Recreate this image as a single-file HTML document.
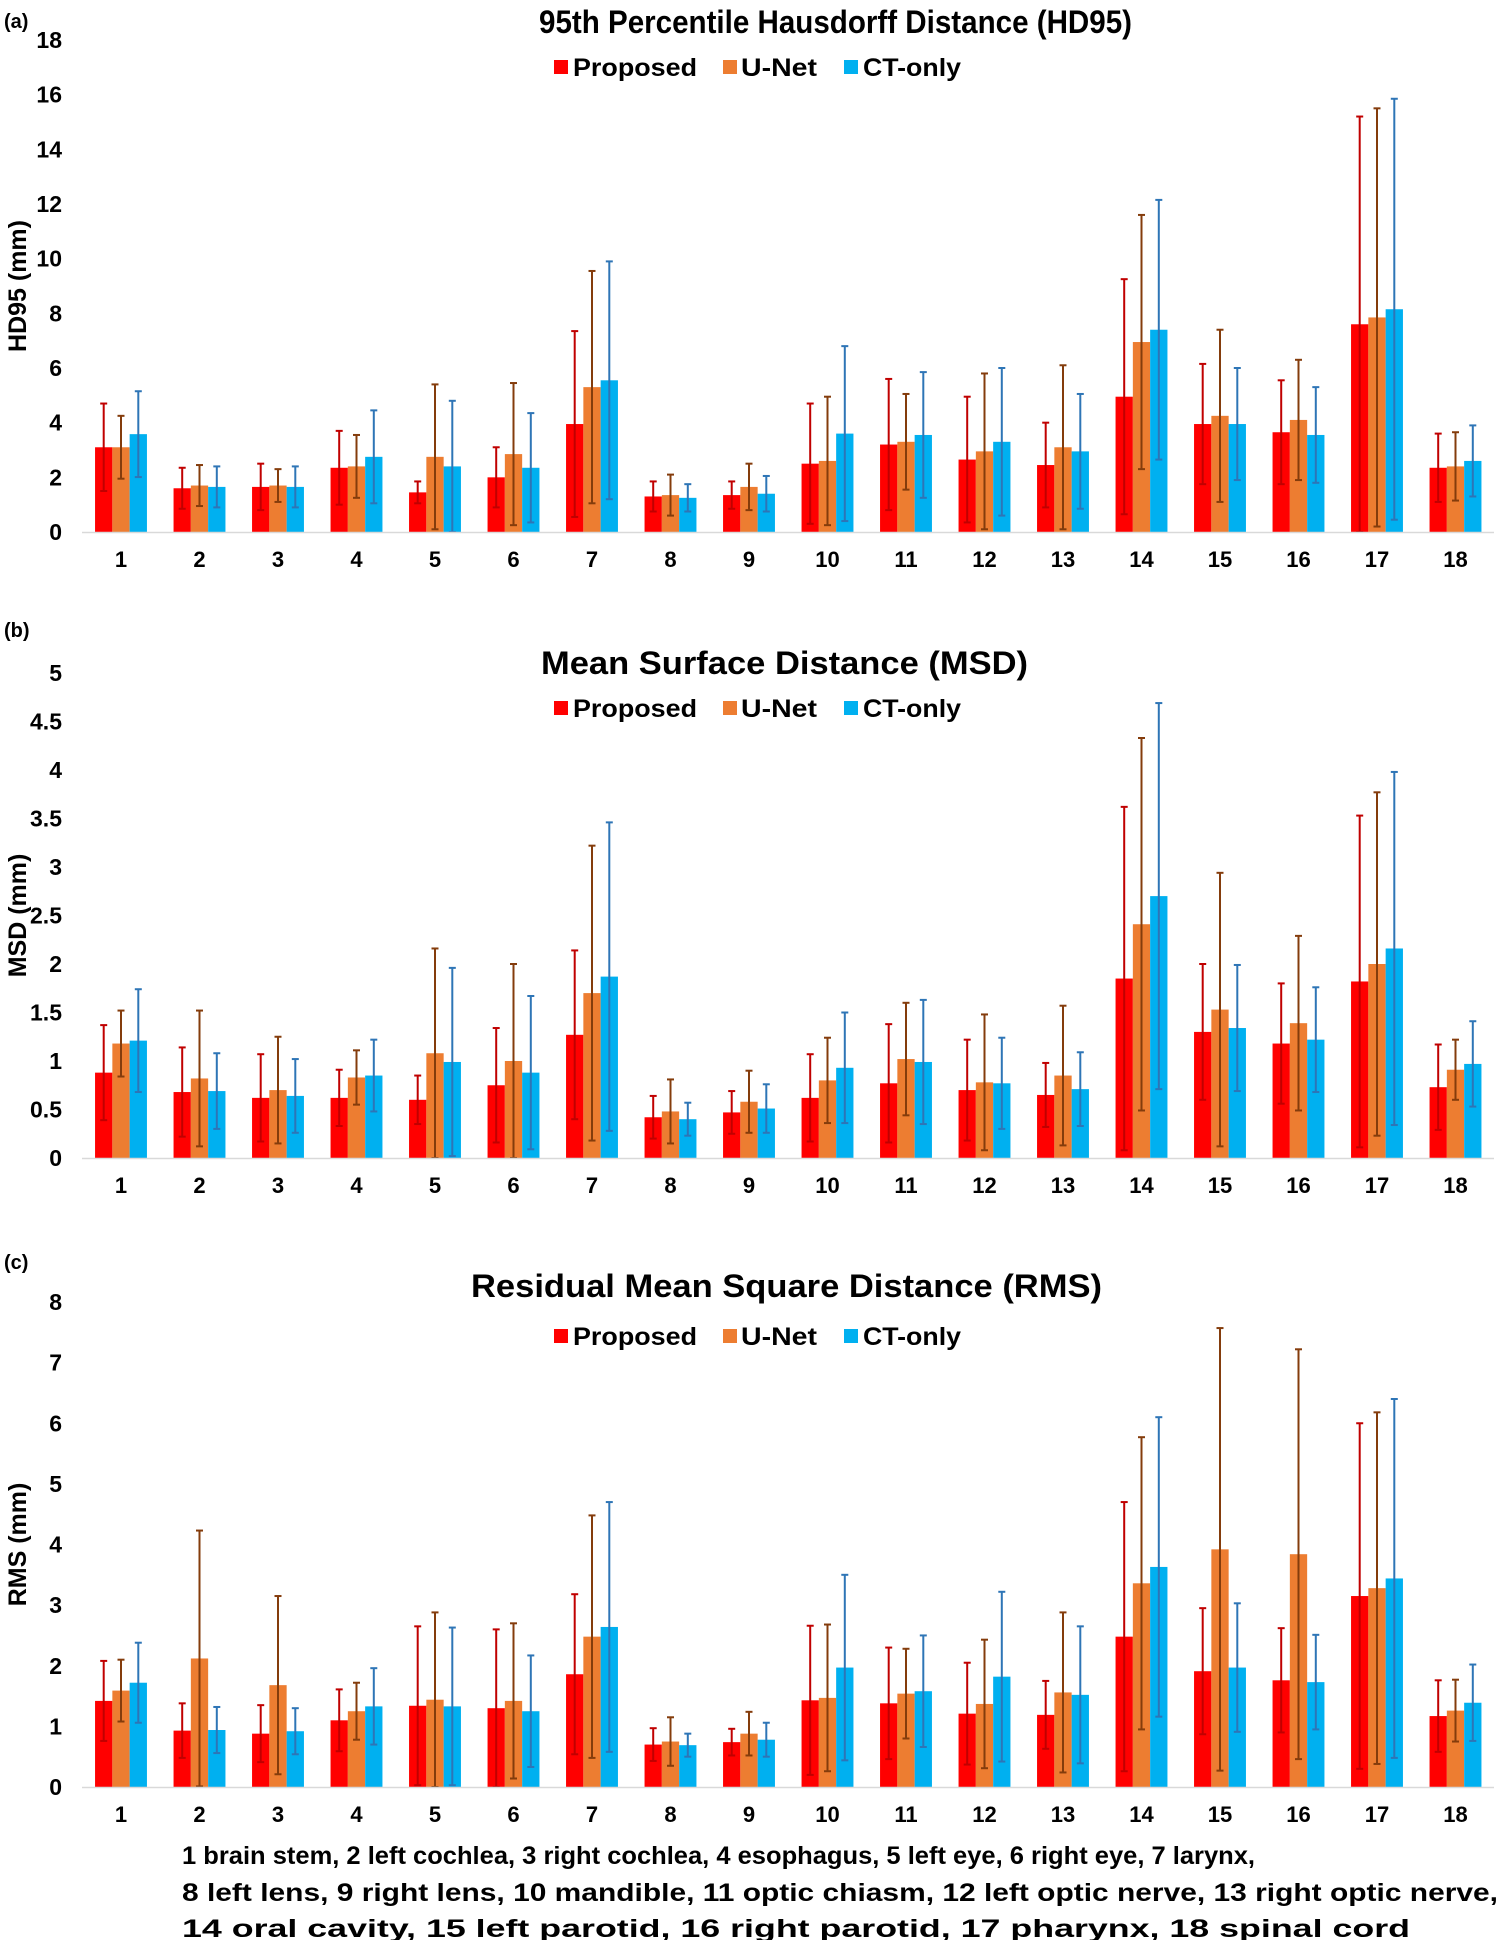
<!DOCTYPE html>
<html><head><meta charset="utf-8"><style>
html,body{margin:0;padding:0;background:#fff;}
svg{display:block;font-family:"Liberation Sans Narrow","Liberation Sans",sans-serif;font-weight:bold;}
</style></head><body>
<svg id="chart" width="1500" height="1940" viewBox="0 0 1500 1940" xmlns="http://www.w3.org/2000/svg"></svg>
<script>
const categories = ["1","2","3","4","5","6","7","8","9","10","11","12","13","14","15","16","17","18"];
const seriesNames = ["Proposed","U-Net","CT-only"];
// HD95
const hdProposed = [3.1,1.6,1.65,2.35,1.45,2.0,3.95,1.3,1.35,2.5,3.2,2.65,2.45,4.95,3.95,3.65,7.6,2.35];
const hdProposedUpper = [4.7,2.35,2.5,3.7,1.85,3.1,7.35,1.85,1.85,4.7,5.6,4.95,4.0,9.25,6.15,5.55,15.2,3.6];
const hdUnet = [3.1,1.7,1.7,2.4,2.75,2.85,5.3,1.35,1.65,2.6,3.3,2.95,3.1,6.95,4.25,4.1,7.85,2.4];
const hdUnetUpper = [4.25,2.45,2.3,3.55,5.4,5.45,9.55,2.1,2.5,4.95,5.05,5.8,6.1,11.6,7.4,6.3,15.5,3.65];
const hdCt = [3.58,1.65,1.65,2.75,2.4,2.35,5.55,1.25,1.4,3.6,3.55,3.3,2.95,7.4,3.95,3.55,8.15,2.6];
const hdCtUpper = [5.15,2.4,2.4,4.45,4.8,4.35,9.9,1.75,2.05,6.8,5.85,6.0,5.05,12.15,6.0,5.3,15.85,3.9];
// MSD
const msdProposed = [0.88,0.68,0.62,0.62,0.6,0.75,1.27,0.42,0.47,0.62,0.77,0.7,0.65,1.85,1.3,1.18,1.82,0.73];
const msdProposedUpper = [1.37,1.14,1.07,0.91,0.85,1.34,2.14,0.64,0.69,1.07,1.38,1.22,0.98,3.62,2.0,1.8,3.53,1.17];
const msdUnet = [1.18,0.82,0.7,0.83,1.08,1.0,1.7,0.48,0.58,0.8,1.02,0.78,0.85,2.41,1.53,1.39,2.0,0.91];
const msdUnetUpper = [1.52,1.52,1.25,1.11,2.16,2.0,3.22,0.81,0.9,1.24,1.6,1.48,1.57,4.33,2.94,2.29,3.77,1.22];
const msdCt = [1.21,0.69,0.64,0.85,0.99,0.88,1.87,0.4,0.51,0.93,0.99,0.77,0.71,2.7,1.34,1.22,2.16,0.97];
const msdCtUpper = [1.74,1.08,1.02,1.22,1.96,1.67,3.46,0.57,0.76,1.5,1.63,1.24,1.09,4.69,1.99,1.76,3.98,1.41];
// RMS
const rmsProposed = [1.42,0.93,0.88,1.1,1.34,1.3,1.86,0.7,0.74,1.43,1.38,1.21,1.19,2.48,1.91,1.76,3.15,1.17];
const rmsProposedUpper = [2.08,1.38,1.35,1.61,2.65,2.6,3.18,0.97,0.96,2.66,2.3,2.05,1.75,4.7,2.95,2.62,6.0,1.76];
const rmsUnet = [1.59,2.12,1.68,1.25,1.44,1.42,2.48,0.75,0.88,1.47,1.54,1.37,1.56,3.36,3.92,3.84,3.28,1.26];
const rmsUnetUpper = [2.1,4.23,3.15,1.72,2.88,2.7,4.48,1.15,1.24,2.68,2.28,2.43,2.88,5.77,7.57,7.22,6.18,1.77];
const rmsCt = [1.72,0.94,0.92,1.33,1.33,1.25,2.64,0.69,0.78,1.97,1.58,1.82,1.52,3.63,1.97,1.73,3.44,1.39];
const rmsCtUpper = [2.38,1.32,1.3,1.96,2.63,2.17,4.7,0.88,1.06,3.5,2.5,3.22,2.65,6.1,3.03,2.51,6.4,2.02];
const hdTicks = ["0","2","4","6","8","10","12","14","16","18"];
const msdTicks = ["0","0.5","1","1.5","2","2.5","3","3.5","4","4.5","5"];
const rmsTicks = ["0","1","2","3","4","5","6","7","8"];

const NS = "http://www.w3.org/2000/svg";
const svg = document.getElementById("chart");
const barColors = ["#ff0000","#ed7d31","#00b0f0"];
const errColors = ["#c00000","#843c0c","#2e75b6"];
function mk(tag, attrs, parent){const e=document.createElementNS(NS,tag);for(const k in attrs)e.setAttribute(k,attrs[k]);(parent||svg).appendChild(e);return e;}

const panels = [
 {id:"hd95", letter:"(a)", letterY:28, title:"95th Percentile Hausdorff Distance (HD95)", titleX:539, titleW:593, titleY:33,
  legendY:68, yTitle:"HD95 (mm)", y0:532, yTop:40, ticks:hdTicks, max:18, xLabY:567,
  means:[hdProposed,hdUnet,hdCt], uppers:[hdProposedUpper,hdUnetUpper,hdCtUpper]},
 {id:"msd", letter:"(b)", letterY:637, title:"Mean Surface Distance (MSD)", titleX:541, titleW:487, titleY:674,
  legendY:709, yTitle:"MSD (mm)", y0:1158, yTop:673, ticks:msdTicks, max:5, xLabY:1193,
  means:[msdProposed,msdUnet,msdCt], uppers:[msdProposedUpper,msdUnetUpper,msdCtUpper]},
 {id:"rms", letter:"(c)", letterY:1269, title:"Residual Mean Square Distance (RMS)", titleX:471, titleW:631, titleY:1297,
  legendY:1337, yTitle:"RMS (mm)", y0:1787, yTop:1302, ticks:rmsTicks, max:8, xLabY:1822,
  means:[rmsProposed,rmsUnet,rmsCt], uppers:[rmsProposedUpper,rmsUnetUpper,rmsCtUpper]}
];
const plotL = 82, plotR = 1494, cx0 = 121, step = 78.5, bw = 17.3;

panels.forEach(p=>{
  const g = mk("g",{});
  
  
  const yScale = v => p.y0 - v/p.max*(p.y0-p.yTop);
  const xCenter = i => cx0 + i*step;
  let t = mk("text",{x:4,y:p.letterY,"font-size":20,fill:"#000"},g); t.textContent=p.letter;
  
  
  t = mk("text",{x:p.titleX,y:p.titleY,"font-size":32,fill:"#000",textLength:p.titleW,lengthAdjust:"spacingAndGlyphs"},g); t.textContent=p.title;
  
  
  const legX=[[554,573,124],[723,741,76],[844,863,98]];
  seriesNames.forEach((n,s)=>{
    const lg = mk("g",{},g);
    
    
    mk("rect",{x:legX[s][0],y:p.legendY-8,width:14,height:14,fill:barColors[s]},lg);
    const lt = mk("text",{x:legX[s][1],y:p.legendY+8,"font-size":25,fill:"#000",textLength:legX[s][2],lengthAdjust:"spacingAndGlyphs"},lg); lt.textContent=n;
  });
  p.ticks.forEach(tk=>{
    const v=parseFloat(tk);
    const tt = mk("text",{x:62,y:yScale(v)+8,"font-size":23,"text-anchor":"end",fill:"#000"},g); tt.textContent=tk;
    
    
  });
  const yt = mk("text",{x:0,y:0,"font-size":25,"text-anchor":"middle",fill:"#000",transform:`translate(26,${(p.y0+p.yTop)/2}) rotate(-90)`},g);
  yt.textContent=p.yTitle;
  
  
  categories.forEach((c,i)=>{
    for(let s=0;s<3;s++){
      const v=p.means[s][i], up=p.uppers[s][i], sd=up-v;
      const x = xCenter(i)+(s-1)*bw - bw/2;
      const r = mk("rect",{x:x,y:yScale(v),width:bw,height:p.y0-yScale(v),fill:barColors[s]},g);
      
      
      const ex = x+bw/2, lo=Math.max(0,v-sd);
      const eg = mk("g",{stroke:errColors[s],"stroke-width":2},g);
      
      
      mk("line",{x1:ex,x2:ex,y1:yScale(up),y2:yScale(lo)},eg);
      mk("line",{x1:ex-3.5,x2:ex+3.5,y1:yScale(up),y2:yScale(up)},eg);
      mk("line",{x1:ex-3.5,x2:ex+3.5,y1:yScale(lo),y2:yScale(lo)},eg);
    }
    const xl = mk("text",{x:xCenter(i),y:p.xLabY,"font-size":22,"text-anchor":"middle",fill:"#000"},g); xl.textContent=c;
    
    
  });
  const ax = mk("line",{x1:plotL,x2:plotR,y1:p.y0+0.5,y2:p.y0+0.5,stroke:"#d9d9d9","stroke-width":1.5},g);
  
  
});

const foot = [["1 brain stem, 2 left cochlea, 3 right cochlea, 4 esophagus, 5 left eye, 6 right eye, 7 larynx,",1073,1864],
 ["8 left lens, 9 right lens, 10 mandible, 11 optic chiasm, 12 left optic nerve, 13 right optic nerve,",1316,1901],
 ["14 oral cavity, 15 left parotid, 16 right parotid, 17 pharynx, 18 spinal cord",1228,1937]];
foot.forEach(f=>{
  const t = mk("text",{x:182,y:f[2],"font-size":25,fill:"#000",textLength:f[1],lengthAdjust:"spacingAndGlyphs"});
  t.textContent=f[0];
  
  
});
</script>
</body></html>
